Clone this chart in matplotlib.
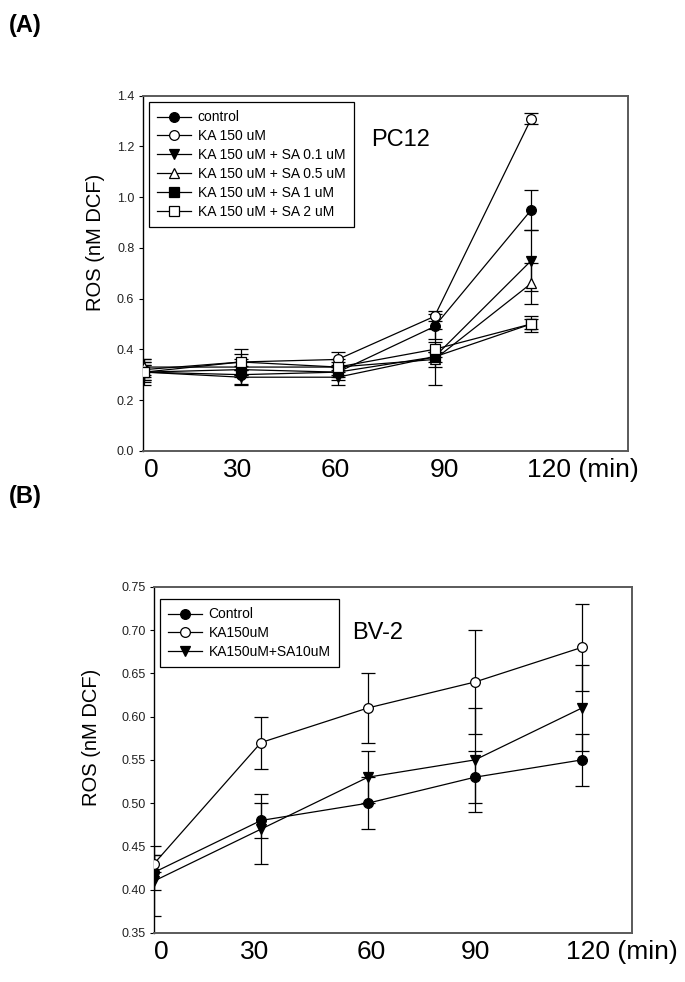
import matplotlib
matplotlib.use("Agg")
import matplotlib.pyplot as plt
import matplotlib.transforms as mtransforms
import numpy as np

plt.rcParams['font.family'] = ['Liberation Sans', 'DejaVu Sans']

# time points (min)
time_pts = [0, 30, 60, 90, 120]

# Panel A: PC12
pc12_labels = ['control', 'KA 150 uM', 'KA 150 uM + SA 0.1 uM',
               'KA 150 uM + SA 0.5 uM', 'KA 150 uM + SA 1 uM', 'KA 150 uM + SA 2 uM']
pc12_control = [0.31, 0.30, 0.31, 0.49, 0.95]
pc12_ka = [0.32, 0.35, 0.36, 0.53, 1.31]
pc12_sa01 = [0.31, 0.29, 0.29, 0.37, 0.75]
pc12_sa05 = [0.33, 0.33, 0.33, 0.36, 0.66]
pc12_sa1 = [0.31, 0.32, 0.31, 0.37, 0.50]
pc12_sa2 = [0.31, 0.35, 0.33, 0.40, 0.50]
pc12_control_err = [0.05, 0.035, 0.03, 0.05, 0.08]
pc12_ka_err = [0.03, 0.03, 0.03, 0.02, 0.02]
pc12_sa01_err = [0.04, 0.03, 0.03, 0.11, 0.12]
pc12_sa05_err = [0.03, 0.03, 0.02, 0.03, 0.08]
pc12_sa1_err = [0.03, 0.03, 0.02, 0.02, 0.02]
pc12_sa2_err = [0.03, 0.05, 0.03, 0.03, 0.03]

# Panel B: BV-2
bv2_labels = ['Control', 'KA150uM', 'KA150uM+SA10uM']
bv2_control = [0.42, 0.48, 0.50, 0.53, 0.55]
bv2_ka = [0.43, 0.57, 0.61, 0.64, 0.68]
bv2_sa = [0.41, 0.47, 0.53, 0.55, 0.61]
bv2_control_err = [0.02, 0.02, 0.03, 0.03, 0.03]
bv2_ka_err = [0.01, 0.03, 0.04, 0.06, 0.05]
bv2_sa_err = [0.04, 0.04, 0.03, 0.06, 0.05]

xtick_labels = ['0', '30', '60', '90', '120 (min)']

# marker style per series: (marker, facecolor)
styles_a = [('o', 'black'), ('o', 'white'), ('v', 'black'),
            ('^', 'white'), ('s', 'black'), ('s', 'white')]
styles_b = [('o', 'black'), ('o', 'white'), ('v', 'black')]

fig = plt.figure(figsize=(6.85, 9.82), dpi=100)
ax1 = fig.add_axes([0.2083, 0.541, 0.7085, 0.3615])
ax2 = fig.add_axes([0.2248, 0.0499, 0.6978, 0.3526])


def draw_series(ax, ys, errs, labels, styles):
    for i, (y, e, lab, (m, fc)) in enumerate(zip(ys, errs, labels, styles)):
        ax.errorbar(time_pts, y, yerr=e, fmt='none', ecolor='black',
                    elinewidth=0.9, capsize=5, capthick=0.9, zorder=2 + i * 0.1)
        ax.plot(time_pts, y, '-', color='black', lw=0.9, marker=m, ms=7,
                mfc=fc, mec='black', mew=0.9, label=lab, zorder=3 + i * 0.1)


def style_axes(ax, shifts):
    for s in ['top', 'right', 'bottom']:
        ax.spines[s].set_color('#5a5a5a')
        ax.spines[s].set_linewidth(1.4)
    ax.spines['left'].set_color('black')
    ax.spines['left'].set_linewidth(1.0)
    ax.tick_params(axis='y', direction='out', length=3, width=0.8,
                   labelsize=9, pad=3, labelcolor='#222222', right=False)
    ax.tick_params(axis='x', length=0, labelsize=19, pad=5)
    ax.set_xticks(time_pts)
    ax.set_xticklabels(xtick_labels)
    lbls = ax.get_xticklabels()
    lbls[0].set_ha('left')
    lbls[-1].set_ha('left')
    # small per-label nudges (pixels)
    for lbl, dx in zip(lbls, shifts):
        off = mtransforms.ScaledTranslation(dx / 100, 0, fig.dpi_scale_trans)
        lbl.set_transform(lbl.get_transform() + off)


# ---- Panel A ----
draw_series(ax1,
            [pc12_control, pc12_ka, pc12_sa01, pc12_sa05, pc12_sa1, pc12_sa2],
            [pc12_control_err, pc12_ka_err, pc12_sa01_err, pc12_sa05_err,
             pc12_sa1_err, pc12_sa2_err],
            pc12_labels, styles_a)
ax1.set_xlim(-0.5, 150)
ax1.set_ylim(0, 1.4)
ax1.set_yticks(np.arange(0, 1.41, 0.2))
ax1.set_yticklabels([f'{v:.1f}' for v in np.arange(0, 1.41, 0.2)])
style_axes(ax1, [0, -3, -3, 10, -4])
ax1.set_ylabel('ROS (nM DCF)', fontsize=14.5)
ax1.yaxis.set_label_coords(-0.078, 0.586)
leg1 = ax1.legend(loc='upper left', bbox_to_anchor=(0.013, 0.982),
                  borderaxespad=0, fontsize=10, handlelength=2.4,
                  handletextpad=0.5, labelspacing=0.35, fancybox=False,
                  edgecolor='black', framealpha=1, borderpad=0.6)
leg1.get_frame().set_linewidth(0.9)
ax1.text(0.532, 0.875, 'PC12', transform=ax1.transAxes, fontsize=17,
         ha='center', va='center')

# ---- Panel B ----
draw_series(ax2, [bv2_control, bv2_ka, bv2_sa],
            [bv2_control_err, bv2_ka_err, bv2_sa_err], bv2_labels, styles_b)
ax2.set_xlim(0, 134)
ax2.set_ylim(0.35, 0.75)
ax2.set_yticks(np.arange(0.35, 0.751, 0.05))
ax2.set_yticklabels([f'{v:.2f}' for v in np.arange(0.35, 0.751, 0.05)])
style_axes(ax2, [0, -6, 3, 0, -16])
ax2.set_ylabel('ROS (nM DCF)', fontsize=14.5)
ax2.yaxis.set_label_coords(-0.111, 0.566)
leg2 = ax2.legend(loc='upper left', bbox_to_anchor=(0.0126, 0.9645),
                  borderaxespad=0, fontsize=10, handlelength=2.4,
                  handletextpad=0.5, labelspacing=0.35, fancybox=False,
                  edgecolor='black', framealpha=1, borderpad=0.6)
leg2.get_frame().set_linewidth(0.9)
ax2.text(0.467, 0.866, 'BV-2', transform=ax2.transAxes, fontsize=17,
         ha='center', va='center')

fig.text(0.013, 0.9745, '(A)', fontsize=17, fontweight='bold', va='center')
fig.text(0.013, 0.494, '(B)', fontsize=17, fontweight='bold', va='center')

fig.savefig('out.png', dpi=100)
